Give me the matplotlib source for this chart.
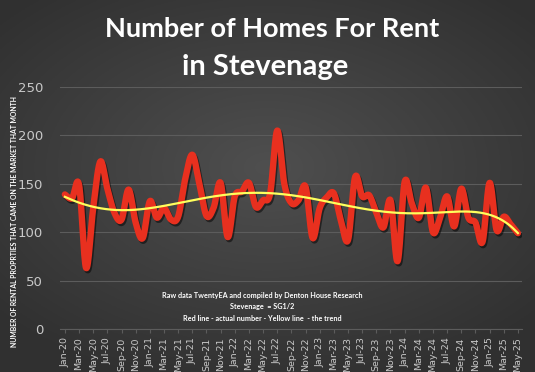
import numpy as np
import pandas as pd
import matplotlib
matplotlib.use('Agg')
import matplotlib.pyplot as plt
import matplotlib.patheffects as pe

# monthly new rental listings, Jan-20 .. May-25
months = pd.date_range('2020-01-01', periods=65, freq='MS').strftime('%b-%y').tolist()
homes = [139, 135, 149, 63, 125, 173, 145, 120, 113, 144,
         110, 94, 132, 115, 125, 113, 116, 155, 180, 150,
         117, 125, 151, 95, 137, 142, 151, 126, 133, 140,
         205, 150, 130, 133, 147, 94, 125, 136, 140, 112,
         92, 157, 137, 138, 120, 105, 133, 70, 152, 130,
         115, 146, 100, 115, 137, 106, 145, 115, 110, 90,
         151, 102, 116, 108, 99]

title_lines = ['Number of Homes For Rent', 'in Stevenage']
ylabel = 'NUMBER OF RENTAL PROPRTIES THAT CAME ON THE MARKET THAT MONTH'
notes = ['Raw data TwentyEA and compiled by Denton House Research',
         'Stevenage  = SG1/2',
         'Red line - actual number - Yellow line  - the trend']


def smooth(x, y, n=16):
    # catmull-rom through the points, like Excel's smoothed line
    x = np.asarray(x, float)
    y = np.asarray(y, float)
    px = np.concatenate([[x[0]], x, [x[-1]]])
    py = np.concatenate([[y[0]], y, [y[-1]]])
    t = np.linspace(0, 1, n, endpoint=False)
    xs, ys = [], []
    for i in range(1, len(px) - 2):
        for arr, out in ((px, xs), (py, ys)):
            p0, p1, p2, p3 = arr[i - 1], arr[i], arr[i + 1], arr[i + 2]
            out.extend(0.5 * ((2 * p1) + (-p0 + p2) * t
                              + (2 * p0 - 5 * p1 + 4 * p2 - p3) * t ** 2
                              + (-p0 + 3 * p1 - 3 * p2 + p3) * t ** 3))
    xs.append(x[-1])
    ys.append(y[-1])
    return np.array(xs), np.array(ys)


idx = np.arange(len(homes))
coef = np.polyfit(idx + 1, homes, 6)
trend = np.polyval(coef, idx + 1)

fig = plt.figure(figsize=(5.35, 3.72), dpi=100)

# dark radial background
bg = fig.add_axes([0, 0, 1, 1], zorder=-10)
gx, gy = np.meshgrid(np.linspace(-1, 1, 300), np.linspace(-1, 1, 220))
r = np.sqrt(gx ** 2 + ((gy + 0.1) * 1.1) ** 2)
shade = np.clip(0.31 - 0.09 * r, 0.19, 0.33)
bg.imshow(np.dstack([shade] * 3), aspect='auto', extent=[0, 1, 0, 1])
bg.axis('off')

ax = fig.add_axes([0.112, 0.1156, 0.864, 0.6505])
ax.set_facecolor('none')

sx, sy = smooth(idx, homes)
ax.plot(sx, sy, color='#e8301f', lw=4.6, solid_capstyle='round', zorder=3,
        path_effects=[pe.SimpleLineShadow(offset=(1, -1.5), alpha=0.5),
                      pe.Normal()])
tx, ty = smooth(idx, trend)
ax.plot(tx, ty, color='#ffff5c', lw=1.6, zorder=4)

ax.set_ylim(0, 250)
ax.set_xlim(-0.7, 64.6)
ax.set_yticks(range(0, 251, 50))
ax.grid(axis='y', color='#5c5c5c', lw=0.8)
ax.set_axisbelow(True)
for s in ['top', 'right', 'left']:
    ax.spines[s].set_visible(False)
ax.spines['bottom'].set_color('#5c5c5c')
ax.tick_params(axis='y', length=0, colors='#c8c8c8', labelsize=9.5, pad=12)
ax.set_xticks(idx[::2])
ax.set_xticklabels(months[::2], rotation=90, fontsize=6.8)
ax.tick_params(axis='x', length=3, color='#5c5c5c', colors='#c8c8c8', pad=3)

fig.text(0.027, 0.405, ylabel, rotation=90, ha='center', va='center',
         color='white', fontsize=4.95, fontweight='bold', family='Lato')

fig.text(0.509, 0.922, title_lines[0], ha='center', va='center', color='white',
         fontsize=19.5, fontweight='bold', family='Lato')
fig.text(0.496, 0.82, title_lines[1], ha='center', va='center', color='white',
         fontsize=21, fontweight='bold', family='Lato')

for k, line in enumerate(notes):
    fig.text(0.49, 0.205 - k * 0.03, line, ha='center', va='center',
             color='white', fontsize=5.2, fontweight='bold', family='Lato')

fig.savefig('out.png', dpi=100)
